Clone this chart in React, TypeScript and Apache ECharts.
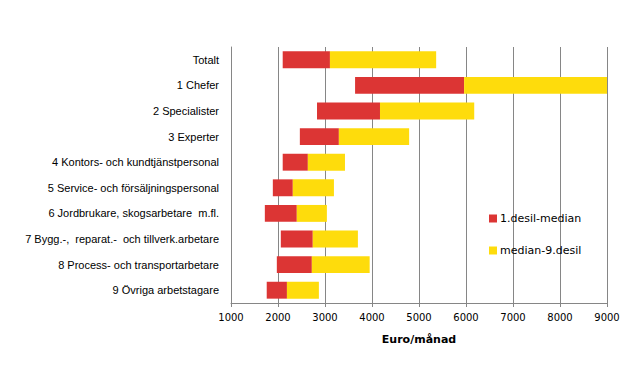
import React, { useEffect, useRef } from "react";
import * as echarts from "echarts";

const categories = [
  "Totalt",
  "1 Chefer",
  "2 Specialister",
  "3 Experter",
  "4 Kontors- och kundtjänstpersonal",
  "5 Service- och försäljningspersonal",
  "6 Jordbrukare, skogsarbetare  m.fl.",
  "7 Bygg.-,  reparat.-  och tillverk.arbetare",
  "8 Process- och transportarbetare",
  "9 Övriga arbetstagare",
];
const decile1 = [2100, 3640, 2830, 2465, 2100, 1890, 1720, 2060, 1975, 1760];
const median = [3105, 5960, 4170, 3295, 2635, 2315, 2400, 2740, 2720, 2190];
const decile9 = [5365, 9030, 6175, 4790, 3425, 3190, 3040, 3700, 3950, 2870];
const xTicks = { min: 1000, max: 9000, interval: 1000 };
const seriesNames = ["1.desil-median", "median-9.desil"];

export default function App() {
  const ref = useRef<HTMLDivElement>(null);
  useEffect(() => {
    if (!ref.current) return;
    const chart = echarts.init(ref.current, null, { renderer: "svg" });
    const lower = decile1.map((v, i) => median[i] - v);
    const upper = decile9.map((v, i) => v - median[i]);
    const grey = "#868686";
    chart.setOption({
      animation: false,
      backgroundColor: "#ffffff",
      textStyle: { fontFamily: "Liberation Sans" },
      grid: { left: 231, right: 29, top: 47, bottom: 63, containLabel: false },
      legend: {
        orient: "vertical",
        left: 484,
        top: 208,
        itemWidth: 8,
        itemHeight: 8,
        itemGap: 21,
        icon: "rect",
        data: seriesNames,
        textStyle: { fontFamily: "DejaVu Sans", fontSize: 11, color: "#000", padding: [0, 0, 0, -2] },
      },
      xAxis: {
        type: "value",
        min: xTicks.min,
        max: xTicks.max,
        interval: xTicks.interval,
        name: "Euro/månad",
        nameLocation: "middle",
        nameGap: 31,
        nameTextStyle: { fontWeight: "bold", fontSize: 11, color: "#000", fontFamily: "DejaVu Sans" },
        axisLine: { show: true, lineStyle: { color: grey } },
        axisTick: { show: true, length: 4, lineStyle: { color: grey } },
        axisLabel: {
          color: "#000",
          fontSize: 10,
          margin: 9,
          fontFamily: "DejaVu Sans",
          formatter: (v: number) => String(v),
        },
        splitLine: { show: true, lineStyle: { color: grey, width: 1 } },
      },
      yAxis: {
        type: "category",
        data: categories,
        inverse: true,
        axisLine: { show: true, lineStyle: { color: grey } },
        axisTick: { show: false },
        axisLabel: { color: "#000", fontSize: 11, margin: 12, fontFamily: "Liberation Sans" },
      },
      series: [
        {
          type: "bar",
          stack: "s",
          data: decile1,
          itemStyle: { color: "transparent" },
          barWidth: "66%",
          silent: true,
        },
        {
          name: seriesNames[0],
          type: "bar",
          stack: "s",
          data: lower,
          itemStyle: { color: "#DC3534" },
          barWidth: "66%",
        },
        {
          name: seriesNames[1],
          type: "bar",
          stack: "s",
          data: upper,
          itemStyle: { color: "#FEDC0C" },
          barWidth: "66%",
        },
      ],
    });
    return () => chart.dispose();
  }, []);
  return (
    <div
      ref={ref}
      style={{ position: "fixed", left: 0, top: 0, width: 636, height: 366, background: "#fff" }}
    />
  );
}
